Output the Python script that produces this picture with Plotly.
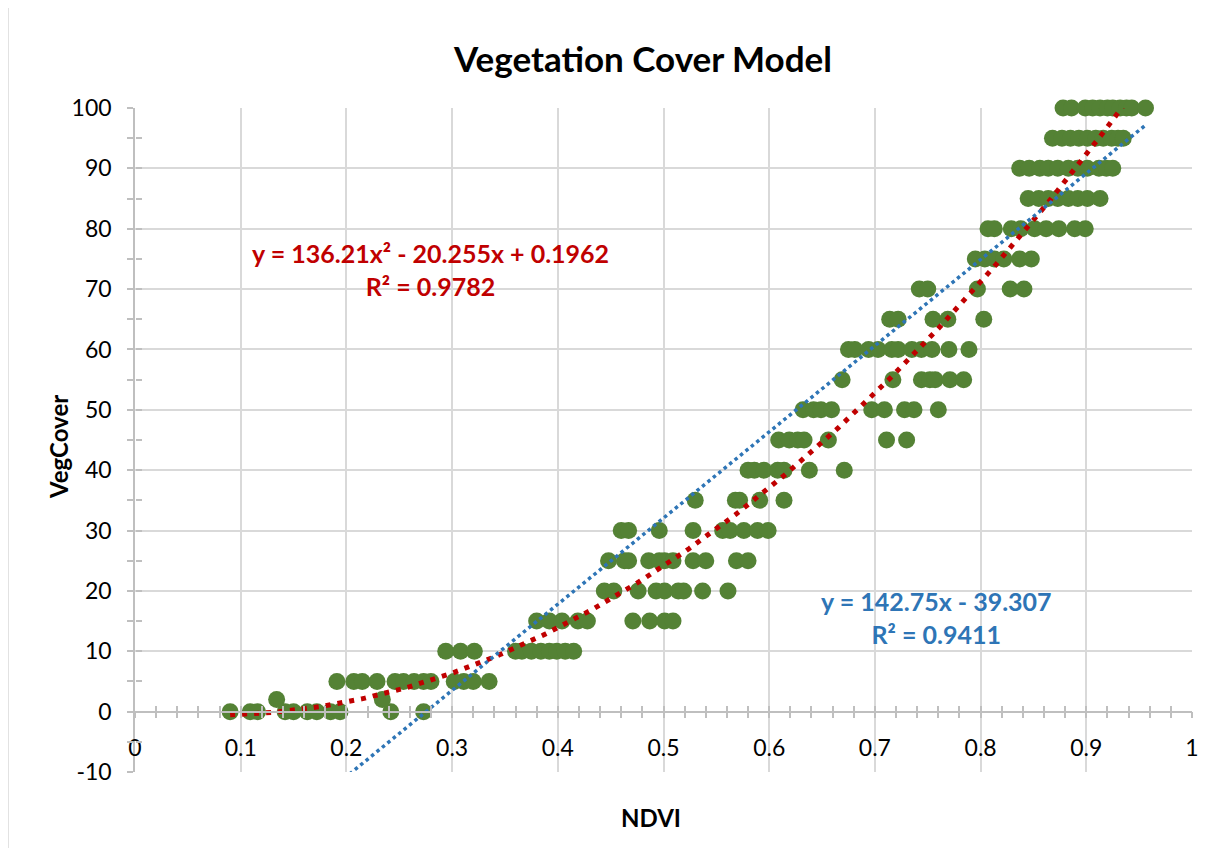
import numpy as np
import plotly.graph_objects as go

# NDVI readings grouped by vegetation-cover level
ndvi = [
    0.090, 0.109, 0.116, 0.142, 0.150, 0.163, 0.172, 0.185, 0.194, 0.242, 0.273,
    0.134, 0.234,
    0.191, 0.207, 0.215, 0.229, 0.246, 0.254, 0.264, 0.273, 0.280, 0.302, 0.311, 0.320, 0.335,
    0.294, 0.308, 0.321, 0.360, 0.366, 0.375, 0.384, 0.392, 0.399, 0.407, 0.415,
    0.380, 0.392, 0.404, 0.419, 0.428, 0.471, 0.487, 0.501, 0.509,
    0.444, 0.453, 0.476, 0.493, 0.501, 0.514, 0.519, 0.537, 0.561,
    0.448, 0.463, 0.467, 0.486, 0.496, 0.501, 0.509, 0.528, 0.540, 0.569, 0.580,
    0.460, 0.467, 0.496, 0.528, 0.556, 0.563, 0.576, 0.589, 0.599,
    0.530, 0.568, 0.572, 0.591, 0.614,
    0.580, 0.586, 0.595, 0.608, 0.614, 0.638, 0.671,
    0.609, 0.619, 0.627, 0.633, 0.656, 0.711, 0.730,
    0.632, 0.642, 0.649, 0.659, 0.697, 0.709, 0.728, 0.737, 0.760,
    0.669, 0.717, 0.744, 0.752, 0.757, 0.771, 0.784,
    0.675, 0.681, 0.694, 0.703, 0.716, 0.722, 0.735, 0.744, 0.754, 0.770, 0.789,
    0.714, 0.722, 0.755, 0.769, 0.803,
    0.742, 0.750, 0.797, 0.828, 0.841,
    0.795, 0.804, 0.813, 0.822, 0.837, 0.848,
    0.807, 0.813, 0.829, 0.838, 0.851, 0.862, 0.874, 0.889, 0.899,
    0.845, 0.855, 0.864, 0.873, 0.883, 0.892, 0.901, 0.913,
    0.837, 0.846, 0.856, 0.864, 0.873, 0.883, 0.892, 0.901, 0.912, 0.919, 0.925,
    0.868, 0.877, 0.885, 0.893, 0.901, 0.909, 0.916, 0.924, 0.930, 0.935,
    0.878, 0.886, 0.899, 0.906, 0.913, 0.920, 0.925, 0.932, 0.938, 0.943, 0.956,
]
veg_levels = [0, 2, 5, 10, 15, 20, 25, 30, 35, 40, 45, 50, 55, 60, 65, 70, 75, 80, 85, 90, 95, 100]
veg_counts = [11, 2, 13, 11, 9, 9, 11, 9, 5, 7, 7, 9, 7, 11, 5, 5, 6, 9, 8, 11, 10, 11]
vegcover = [lvl for lvl, n in zip(veg_levels, veg_counts) for _ in range(n)]

y_tickvals = [-10, 0, 10, 20, 30, 40, 50, 60, 70, 80, 90, 100]
y_ticktext = ["-10", "0", "10", "20", "30", "40", "50", "60", "70", "80", "90", "100"]

# trendline coefficients as printed on the chart
poly_coef = [136.21, -20.255, 0.1962]
lin_coef = [142.75, -39.307]
poly_label = "y = 136.21x² - 20.255x + 0.1962<br>R² = 0.9782"
lin_label = "y = 142.75x - 39.307<br>R² = 0.9411"

GREEN = "#548235"
RED = "#C00000"
BLUE = "#2E75B6"
GRID = "#D9D9D9"
AXIS = "#BFBFBF"
FONT = "Lato"

# page body adds an 8px offset, so the figure is drawn 8px smaller
W, H = 1211, 840
L, T = 127, 100
PW, PH = 1057, 664

xs = np.linspace(min(ndvi), max(ndvi), 300)

fig = go.Figure()
fig.add_trace(go.Scatter(
    x=ndvi, y=vegcover, mode="markers", cliponaxis=False,
    marker={"color": GREEN, "size": 17, "line": {"width": 0}},
    showlegend=False,
))
fig.add_trace(go.Scatter(
    x=xs, y=np.polyval(poly_coef, xs), mode="lines",
    line={"color": RED, "width": 5, "dash": "5px,7px"}, showlegend=False,
))
fig.add_trace(go.Scatter(
    x=xs, y=np.polyval(lin_coef, xs), mode="lines",
    line={"color": BLUE, "width": 3.5, "dash": "3.5px,3.5px"}, showlegend=False,
))
# dummy trace so the tick-crossing overlay axes are drawn
fig.add_trace(go.Scatter(x=[None], y=[None], xaxis="x2", yaxis="y2", showlegend=False))

fig.add_annotation(x=0.28, y=73.2, text=poly_label, showarrow=False,
                   font={"color": RED, "size": 25, "family": FONT, "weight": "bold"})
fig.add_annotation(x=0.758, y=15.6, text=lin_label, showarrow=False,
                   font={"color": BLUE, "size": 25, "family": FONT, "weight": "bold"})

fig.update_layout(
    width=W, height=H,
    paper_bgcolor="white", plot_bgcolor="white",
    margin={"l": L, "r": W - L - PW, "t": T, "b": H - T - PH},
    font={"family": FONT, "color": "#000000", "size": 23},
    title={"text": "<b>Vegetation Cover Model</b>", "x": (643 - 8) / W, "xanchor": "center",
           "y": 1 - (60 - 8) / H, "yanchor": "middle", "font": {"size": 35}},
    xaxis={
        "range": [0, 1], "dtick": 0.1, "tickformat": "~g",
        "showgrid": True, "gridcolor": GRID, "gridwidth": 1.5, "zeroline": False,
        "anchor": "free", "position": 10 / 110,
        "showline": True, "linecolor": AXIS, "linewidth": 1.5,
        "ticks": "outside", "ticklen": 6, "tickcolor": AXIS, "tickwidth": 1.5,
        "minor": {"dtick": 0.02, "ticks": "outside", "ticklen": 6, "tickcolor": AXIS, "tickwidth": 1.5, "showgrid": False},
        "ticklabelstandoff": 10,
        "title": None,
    },
    xaxis2={
        "matches": "x", "overlaying": "x", "anchor": "free", "position": 10 / 110,
        "showgrid": False, "zeroline": False, "showticklabels": False, "dtick": 0.1,
        "ticks": "inside", "ticklen": 6, "tickcolor": AXIS, "tickwidth": 1.5,
        "minor": {"dtick": 0.02, "ticks": "inside", "ticklen": 6, "tickcolor": AXIS, "tickwidth": 1.5, "showgrid": False},
    },
    yaxis={
        "range": [-10, 100], "tickmode": "array", "tickvals": y_tickvals, "ticktext": y_ticktext,
        "showgrid": True, "gridcolor": GRID, "gridwidth": 1.5, "zeroline": False,
        "showline": True, "linecolor": AXIS, "linewidth": 1.5,
        "ticks": "outside", "ticklen": 6, "tickcolor": AXIS, "tickwidth": 1.5,
        "minor": {"dtick": 5, "ticks": "outside", "ticklen": 6, "tickcolor": AXIS, "tickwidth": 1.5, "showgrid": False},
        "ticklabelstandoff": 11,
        "title": None,
    },
    yaxis2={
        "matches": "y", "overlaying": "y", "anchor": "free", "position": 0, "side": "left",
        "showgrid": False, "zeroline": False, "showticklabels": False, "dtick": 10,
        "ticks": "inside", "ticklen": 6, "tickcolor": AXIS, "tickwidth": 1.5,
        "minor": {"dtick": 5, "ticks": "inside", "ticklen": 6, "tickcolor": AXIS, "tickwidth": 1.5, "showgrid": False},
    },
)

# axis titles placed like the spreadsheet chart
fig.add_annotation(text="<b>NDVI</b>", xref="paper", yref="paper", x=(651 - 135) / PW,
                   y=(772 - 817) / PH, xanchor="center", yanchor="middle",
                   showarrow=False, font={"size": 24})
fig.add_annotation(text="<b>VegCover</b>", xref="paper", yref="paper", x=(58 - 135) / PW,
                   y=(772 - 447) / PH, xanchor="center", yanchor="middle",
                   showarrow=False, textangle=-90, font={"size": 24})

# chart-area border
fig.add_shape(type="rect", xref="paper", yref="paper",
              x0=(8 - 135) / PW, x1=(1240 - 135) / PW,
              y0=(772 - 870) / PH, y1=(772 - 5) / PH,
              line={"color": GRID, "width": 1.5}, layer="below")

fig.write_html("out.html")
